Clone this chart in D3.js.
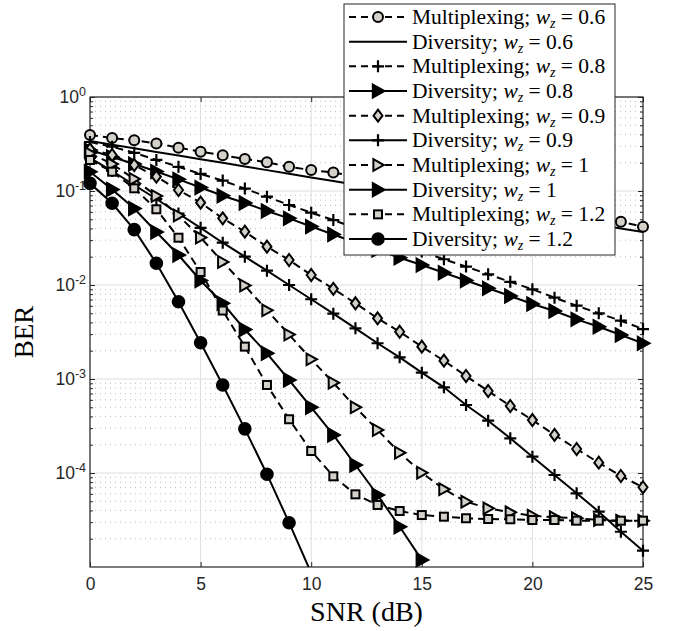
<!DOCTYPE html>
<html>
<head>
<meta charset="utf-8">
<script src="https://cdn.jsdelivr.net/npm/d3@7"></script>
<style>
  body { margin: 0; background: #fff; }
</style>
</head>
<body>
<div id="chart"></div>
<script>
// 0. size of the figure and of the axes box
const width = 675;
const height = 631;
const margin = { top: 97, right: 32, bottom: 64, left: 90 };

// data (BER vs SNR in dB)
const snr = [0, 1, 2, 3, 4, 5, 6, 7, 8, 9, 10, 11, 12, 13, 14, 15, 16, 17, 18, 19, 20, 21, 22, 23, 24, 25];

const muxW06 = [0.394, 0.366, 0.346, 0.321, 0.289, 0.262, 0.240, 0.219, 0.202, 0.181, 0.167, 0.157, 0.143,
  0.130, 0.119, 0.108, 0.0988, 0.090, 0.0822, 0.0745, 0.0684, 0.0624, 0.0569, 0.0517, 0.0472, 0.0417];
const divW06 = [0.340, 0.311, 0.2845, 0.260, 0.238, 0.218, 0.1993, 0.1823, 0.1667, 0.1525, 0.1395, 0.1276, 0.1167,
  0.1067, 0.0976, 0.0893, 0.0817, 0.0747, 0.0683, 0.0625, 0.0572, 0.0523, 0.0478, 0.0438, 0.0400, 0.0366];
const muxW08 = [0.332, 0.296, 0.255, 0.214, 0.181, 0.152, 0.129, 0.106, 0.0870, 0.0710, 0.0588, 0.0491, 0.0404,
  0.0332, 0.0273, 0.0227, 0.0188, 0.0157, 0.0130, 0.0108, 0.0090, 0.00733, 0.00602, 0.00500, 0.00417, 0.00340];
const divW08 = [0.273, 0.230, 0.1937, 0.1612, 0.1331, 0.1089, 0.0889, 0.0746, 0.0613, 0.0512, 0.0419, 0.0345, 0.0283,
  0.0236, 0.0195, 0.0163, 0.0135, 0.01116, 0.00922, 0.00764, 0.00628, 0.00529, 0.00431, 0.00360, 0.00294, 0.00240];
const muxW09 = [0.2778, 0.2415, 0.1890, 0.1420, 0.1025, 0.0751, 0.0512, 0.0369, 0.02555, 0.01845, 0.01278, 0.00911,
  0.00639, 0.00442, 0.00318, 0.00221, 0.001566, 0.001076, 0.000745, 0.000516, 0.000366, 0.000254, 0.000180,
  0.0001287, 0.0000929, 0.0000705];
const divW09 = [0.2245, 0.1632, 0.1158, 0.0822, 0.0576, 0.0406, 0.02818, 0.0200, 0.0142, 0.0100, 0.00705, 0.00495,
  0.00346, 0.00240, 0.00170, 0.001167, 0.000816, 0.000529, 0.000360, 0.000234, 0.0001491, 0.0000952, 0.0000608,
  0.0000388, 0.0000237, 0.0000149];
const muxW1 = [0.2518, 0.1937, 0.1342, 0.0885, 0.0549, 0.0320, 0.01757, 0.00988, 0.00538, 0.00297, 0.00162, 0.000913,
  0.000500, 0.000287, 0.0001644, 0.0001007, 0.0000671, 0.0000495, 0.0000421, 0.0000382, 0.0000351, 0.0000338,
  0.0000330, 0.0000316, 0.0000311, 0.0000311];
const divW1 = [0.1604, 0.1038, 0.0651, 0.0366, 0.02085, 0.01117, 0.00639, 0.00336, 0.001877, 0.000976, 0.000500,
  0.000254, 0.0001216, 0.0000583, 0.0000268, 0.0000119];
const muxW12 = [0.2137, 0.1604, 0.1068, 0.0639, 0.03185, 0.01375, 0.00535, 0.00221, 0.000864, 0.000373, 0.0001714,
  0.0000922, 0.0000593, 0.0000457, 0.0000394, 0.0000357, 0.0000343, 0.0000330, 0.0000324, 0.0000322, 0.0000316,
  0.0000316, 0.0000311, 0.0000311, 0.0000311, 0.0000311];
const divW12 = [0.1207, 0.0740, 0.0388, 0.01702, 0.00664, 0.00243, 0.000864, 0.000295, 0.0000971, 0.0000296,
  0.00000863];

const schemes = ["Multiplexing", "Diversity", "Multiplexing", "Diversity", "Multiplexing",
  "Diversity", "Multiplexing", "Diversity", "Multiplexing", "Diversity"];
const wzLabels = ["0.6", "0.6", "0.8", "0.8", "0.9", "0.9", "1", "1", "1.2", "1.2"];
const seriesValues = [muxW06, divW06, muxW08, divW08, muxW09, divW09, muxW1, divW1, muxW12, divW12];

const xTicks = [0, 5, 10, 15, 20, 25];
const yTicks = [1, 0.1, 0.01, 0.001, 0.0001];
const yTickExp = ["0", "-1", "-2", "-3", "-4"];

// look of each curve (same order as the legend)
const gray = "#d4d1cb";
const styles = [
  { dash: true, marker: "circle", size: 5, fill: gray },
  { dash: false, marker: null },
  { dash: true, marker: "plus", size: 6, fill: "none" },
  { dash: false, marker: "triright", size: 6.5, fill: "#000" },
  { dash: true, marker: "diamond", size: 6, fill: gray },
  { dash: false, marker: "plus", size: 6, fill: "none" },
  { dash: true, marker: "triright", size: 5.8, fill: gray },
  { dash: false, marker: "triright", size: 6.5, fill: "#000" },
  { dash: true, marker: "square", size: 4, fill: gray },
  { dash: false, marker: "circle", size: 5.8, fill: "#000" },
];

const axisColor = "#262626";

const svg = d3
  .select("#chart")
  .append("svg")
  .attr("width", width)
  .attr("height", height)
  .style("display", "block");

const x = d3
  .scaleLinear()
  .domain([0, 25])
  .range([margin.left, width - margin.right]);

const y = d3
  .scaleLog()
  .domain([1e-5, 1])
  .range([height - margin.bottom, margin.top]);

const x0 = x.range()[0], x1 = x.range()[1];
const yb = y.range()[0], yt = y.range()[1];

// minor decades 2..9
const yMinor = [];
for (let e = -5; e < 0; e++) {
  for (let m = 2; m <= 9; m++) yMinor.push(m * Math.pow(10, e));
}

// grid
const grid = svg.append("g");
grid
  .selectAll(".gminor")
  .data(yMinor)
  .enter()
  .append("line")
  .attr("x1", x0)
  .attr("x2", x1)
  .attr("y1", (d) => y(d))
  .attr("y2", (d) => y(d))
  .attr("stroke", "#bdbdbd")
  .attr("stroke-width", 1)
  .attr("stroke-dasharray", "1,4");
grid
  .selectAll(".gy")
  .data(yTicks)
  .enter()
  .append("line")
  .attr("x1", x0)
  .attr("x2", x1)
  .attr("y1", (d) => y(d))
  .attr("y2", (d) => y(d))
  .attr("stroke", "#dedede")
  .attr("stroke-width", 1);
grid
  .selectAll(".gx")
  .data(xTicks)
  .enter()
  .append("line")
  .attr("x1", (d) => x(d))
  .attr("x2", (d) => x(d))
  .attr("y1", yt)
  .attr("y2", yb)
  .attr("stroke", "#dedede")
  .attr("stroke-width", 1);

// axes (ticks pointing in)
const tickFont = "'Liberation Sans', Arial, sans-serif";

const gx = svg
  .append("g")
  .attr("transform", `translate(0,${yb})`)
  .call(d3.axisBottom(x).tickValues(xTicks).tickSizeInner(-5).tickSizeOuter(0).tickPadding(11));
gx.selectAll("text")
  .attr("fill", axisColor)
  .style("font-family", tickFont)
  .style("font-size", "17.5px");

svg
  .append("g")
  .attr("transform", `translate(0,${yt})`)
  .call(d3.axisTop(x).tickValues(xTicks).tickSizeInner(-5).tickSizeOuter(0).tickFormat(""));

const gy = svg
  .append("g")
  .attr("transform", `translate(${x0},0)`)
  .call(d3.axisLeft(y).tickValues(yTicks).tickSizeInner(-5).tickSizeOuter(0).tickFormat(""));

gy.selectAll(".tick text").each(function (d, i) {
  const t = d3
    .select(this)
    .attr("x", -4)
    .attr("dy", "0.32em")
    .attr("fill", axisColor)
    .style("font-family", tickFont)
    .style("font-size", "17.5px");
  t.append("tspan").text("10");
  t.append("tspan").attr("dy", "-0.55em").style("font-size", "12.5px").text(yTickExp[i]);
});

svg
  .append("g")
  .attr("transform", `translate(${x0},0)`)
  .call(d3.axisLeft(y).tickValues(yMinor).tickSizeInner(-3).tickSizeOuter(0).tickFormat(""));

svg
  .append("g")
  .attr("transform", `translate(${x1},0)`)
  .call(d3.axisRight(y).tickValues(yTicks).tickSizeInner(-5).tickSizeOuter(0).tickFormat(""));
svg
  .append("g")
  .attr("transform", `translate(${x1},0)`)
  .call(d3.axisRight(y).tickValues(yMinor).tickSizeInner(-3).tickSizeOuter(0).tickFormat(""));

svg.selectAll(".domain").remove();
svg.selectAll(".tick line").attr("stroke", axisColor).attr("stroke-width", 1);

// box
svg
  .append("rect")
  .attr("x", x0)
  .attr("y", yt)
  .attr("width", x1 - x0)
  .attr("height", yb - yt)
  .attr("fill", "none")
  .attr("stroke", axisColor)
  .attr("stroke-width", 1.2);

// axis labels
svg
  .append("text")
  .attr("x", (x0 + x1) / 2)
  .attr("y", 621)
  .attr("text-anchor", "middle")
  .style("font-family", "'Liberation Serif', 'Times New Roman', serif")
  .style("font-size", "28px")
  .attr("fill", "#000")
  .text("SNR (dB)");

svg
  .append("text")
  .attr("transform", `translate(33,${(yt + yb) / 2}) rotate(-90)`)
  .attr("text-anchor", "middle")
  .style("font-family", "'Liberation Serif', 'Times New Roman', serif")
  .style("font-size", "27px")
  .attr("fill", "#000")
  .text("BER");

// marker drawing
function drawMarker(g, st, cx, cy) {
  const s = st.size;
  let m;
  if (st.marker === "circle") {
    m = g.append("circle").attr("cx", cx).attr("cy", cy).attr("r", s);
  } else if (st.marker === "square") {
    m = g.append("rect").attr("x", cx - s).attr("y", cy - s).attr("width", 2 * s).attr("height", 2 * s);
  } else if (st.marker === "diamond") {
    m = g.append("path").attr("d", `M${cx},${cy - s}L${cx + s * 0.75},${cy}L${cx},${cy + s}L${cx - s * 0.75},${cy}Z`);
  } else if (st.marker === "triright") {
    m = g.append("path").attr("d", `M${cx - s * 0.8},${cy - s}L${cx + s},${cy}L${cx - s * 0.8},${cy + s}Z`);
  } else if (st.marker === "plus") {
    m = g.append("path").attr("d", `M${cx - s},${cy}H${cx + s}M${cx},${cy - s}V${cy + s}`);
  }
  m.attr("fill", st.fill)
    .attr("stroke", "#000")
    .attr("stroke-width", st.marker === "plus" ? 2.2 : 2)
    .attr("stroke-linejoin", "miter");
}

// curves
svg
  .append("clipPath")
  .attr("id", "plot-clip")
  .append("rect")
  .attr("x", x0)
  .attr("y", yt)
  .attr("width", x1 - x0)
  .attr("height", yb - yt);

const line = d3
  .line()
  .x((d) => x(d[0]))
  .y((d) => y(d[1]));

const curves = svg.append("g");
seriesValues.forEach((vals, i) => {
  const st = styles[i];
  const pts = vals.map((v, k) => [snr[k], v]);
  curves
    .append("path")
    .datum(pts)
    .attr("d", line)
    .attr("clip-path", "url(#plot-clip)")
    .attr("fill", "none")
    .attr("stroke", "#000")
    .attr("stroke-width", 2)
    .attr("stroke-dasharray", st.dash ? "8,5" : null);
  if (st.marker) {
    const mg = curves.append("g");
    pts.forEach((p) => {
      if (p[1] >= y.domain()[0]) drawMarker(mg, st, x(p[0]), y(p[1]));
    });
  }
});

// legend
const legend = svg.append("g");
const legX = 344, legY = 4, legW = 271, legH = 251, rowH = 24.67;
legend
  .append("rect")
  .attr("x", legX)
  .attr("y", legY)
  .attr("width", legW)
  .attr("height", legH)
  .attr("fill", "#fff")
  .attr("stroke", axisColor)
  .attr("stroke-width", 1);

schemes.forEach((name, i) => {
  const st = styles[i];
  const cy = 17 + i * rowH;
  legend
    .append("line")
    .attr("x1", 349)
    .attr("x2", 407)
    .attr("y1", cy)
    .attr("y2", cy)
    .attr("stroke", "#000")
    .attr("stroke-width", 2)
    .attr("stroke-dasharray", st.dash ? "7,5" : null);
  if (st.marker) drawMarker(legend, st, 378, cy);

  const t = legend
    .append("text")
    .attr("x", 412)
    .attr("y", cy + 7)
    .style("font-family", "'Liberation Serif', 'Times New Roman', serif")
    .style("font-size", "21.5px")
    .attr("fill", "#000");
  t.append("tspan").text(name + "; ");
  t.append("tspan").style("font-style", "italic").text("w");
  t.append("tspan").attr("dy", 4).style("font-style", "italic").style("font-size", "14px").text("z");
  t.append("tspan").attr("dy", -4).text(" = " + wzLabels[i]);
});
</script>
</body>
</html>
